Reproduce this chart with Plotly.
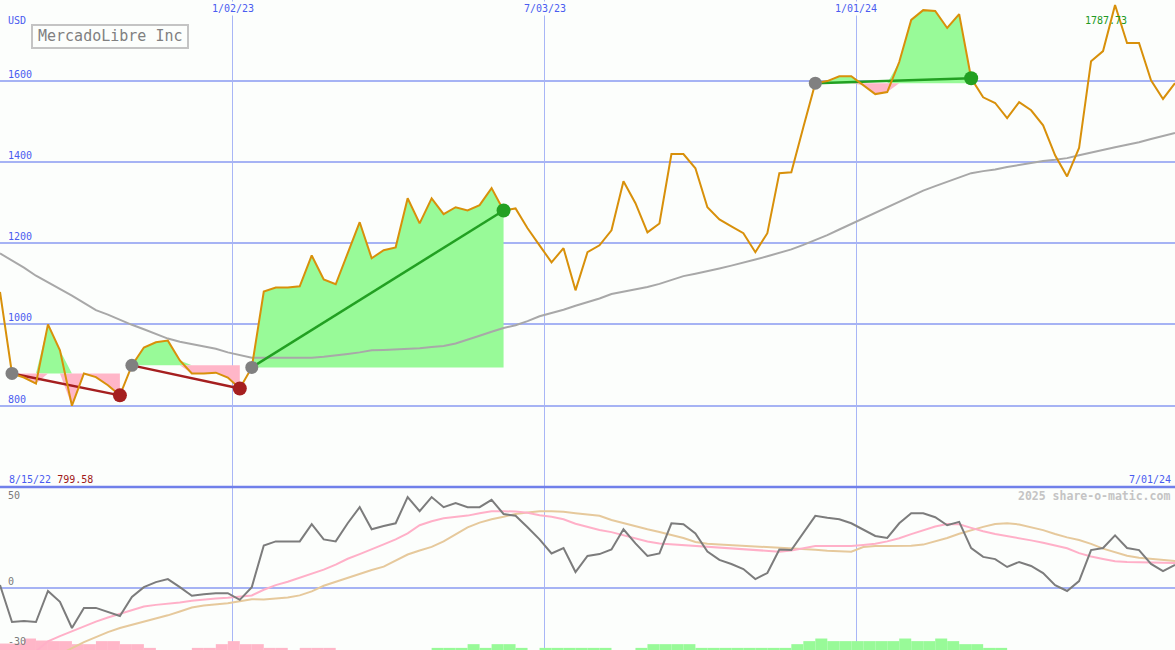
import plotly.graph_objects as go
import pandas as pd

# ---------------- data ----------------
dates = pd.date_range("2022-08-19", periods=99, freq="7D")

price = [1080, 879, 869, 854, 1000, 936, 799.58, 879, 870, 850,
         825, 899, 943, 956, 960, 911, 879, 879, 881, 869,
         842, 894, 1081, 1091, 1091, 1094, 1170, 1111, 1099, 1175,
         1252, 1163, 1183, 1190, 1311, 1249, 1311, 1272, 1289, 1281,
         1294, 1336, 1281, 1286, 1237, 1195, 1153, 1188, 1084, 1178,
         1195, 1232, 1353, 1299, 1227, 1249, 1420, 1420, 1385, 1289,
         1259, 1242, 1225, 1178, 1225, 1373, 1375, 1486, 1595, 1600,
         1612, 1612, 1590, 1568, 1573, 1647, 1751, 1775, 1773, 1731,
         1765, 1607, 1560, 1546, 1509, 1548, 1528, 1491, 1417, 1365,
         1435, 1649, 1674, 1787.73, 1694, 1694, 1602, 1556, 1595]

ma_long = [1175, 1158, 1140, 1120, 1104, 1089, 1071, 1053, 1035, 1024,
           1011, 999, 988, 976, 965, 957, 951, 945, 940, 931,
           924, 918, 918, 918, 918, 918, 918, 920, 923, 927,
           931, 936, 937, 938, 940, 941, 944, 947, 953, 962,
           972, 982, 991, 998, 1008, 1020, 1028, 1036, 1046, 1055,
           1064, 1075, 1081, 1087, 1092, 1100, 1110, 1119, 1125, 1131,
           1138, 1145, 1152, 1160, 1168, 1176, 1185, 1196, 1208, 1220,
           1234, 1248, 1261, 1275, 1290, 1303, 1317, 1330, 1341, 1352,
           1363, 1373, 1378, 1382, 1388, 1393, 1398, 1403, 1406, 1410,
           1417, 1424, 1431, 1437, 1443, 1449, 1457, 1465, 1472]

osc = [1.3, -17, -16.5, -17, -1.6, -7, -20, -10, -10, -12,
       -14, -4.6, 0.3, 2.8, 4.3, 0.3, -4, -3.2, -2.7, -2.7,
       -6, 0.3, 21, 23, 23, 23, 31.6, 24, 23, 32,
       40, 29, 30.6, 32, 45, 38, 45, 40, 42, 40,
       40, 43.6, 36.6, 35.7, 30, 24, 17, 19.7, 7.8, 15.8,
       16.7, 19, 29, 22, 15.8, 17, 32, 31.5, 27, 18,
       13.8, 11.8, 9.3, 4.3, 7.3, 19, 18.7, 27, 35.7, 34.7,
       34, 32, 28.7, 25.7, 24.7, 32, 37, 37, 35, 31,
       32.7, 19.7, 15.3, 14.2, 10.3, 12.8, 10.8, 7.3, 1.3, -1.6,
       3.3, 18.7, 19.7, 26, 19.7, 18.7, 11.8, 8.3, 11.3]

osc_fast = [None, None, None, -31.5, -26.6, -24, -21.5, -19, -16.8, -14.8,
            -13, -11, -9.3, -8.5, -8, -7.3, -6.5, -5.8, -5.4, -5,
            -4.4, -3.8, -1, 1.3, 3, 5, 7, 9, 11.5, 14.4,
            16.7, 19, 21.5, 24, 27, 31, 33, 34.5, 35.2, 35.8,
            37, 38, 38, 37.8, 37.2, 36, 35.2, 34, 31.8, 30.2,
            28.7, 27.6, 26, 24.7, 23, 22, 21.6, 21.2, 20.8, 20.3,
            20, 19.4, 18.9, 18.5, 18.2, 17.9, 18.5, 19.5, 20.7, 20.7,
            20.7, 20.7, 21.2, 21.8, 23, 24.6, 26.6, 28.5, 30.4, 31.6,
            31.5, 29.7, 28, 26.7, 25.7, 24.6, 23.5, 22.3, 21, 19.6,
            17.2, 15.5, 14.3, 13.1, 12.8, 12.6, 12.5, 12.4, 12.3]

osc_slow = [None, None, None, None, None, -33, -30, -27, -24.5, -22,
            -20, -18.5, -16.8, -15.2, -13.7, -11.8, -9.8, -8.8, -8.3, -7.7,
            -6.7, -5.7, -5.8, -5.4, -4.8, -3.8, -1.8, 1, 3, 5,
            7, 8.8, 10.5, 13.5, 16.5, 18.5, 20.3, 23, 26.5, 30,
            32.3, 34, 35.2, 36.6, 37.3, 38, 38, 37.7, 37, 36.4,
            35.7, 33.6, 32, 30.5, 29, 27.7, 26.3, 24.7, 22.7, 21.8,
            21.5, 21.2, 20.9, 20.6, 20.2, 19.8, 19.5, 19.2, 18.8, 18.4,
            18, 17.9, 20.2, 20.7, 20.7, 20.7, 20.9, 21.4, 23, 24.7,
            26.8, 28.6, 30.2, 31.6, 32, 31.4, 30, 28.6, 26.7, 25,
            23.7, 21.8, 19.4, 17.6, 15.9, 14.9, 14.3, 13.8, 13.3]

bar_pink = [3.3, 3.3, 5.8, 4.8, 4.5, 4.5, 3, 3, 4.5, 4.5,
            3, 3, 1.15, 0, 0, 0, 1.15, 1.15, 3, 4.5,
            3, 3, 1.15, 1.15, 0, 1.15, 1.15, 1.15] + [0] * 71

bar_green = [0] * 36 + [1.15, 1.15, 1.15, 3,
             1.15, 3, 3, 1.15, 0, 1.15, 1.15, 1.15, 1.15, 1.15,
             1.15, 0, 0, 1.15, 3, 3, 3, 3, 1.15, 1.15,
             1.15, 1.15, 1.15, 1.15, 1.15, 1.15, 3, 4.5, 5.8, 4.5,
             4.5, 4.5, 4.5, 4.5, 4.5, 5.8, 4.5, 4.5, 5.8, 4.5,
             3, 3, 1.15, 1.15] + [0] * 15

# signal segments: (start index, end index, outcome)
segments = [(1, 10, "loss"), (11, 20, "loss"), (21, 42, "gain"), (68, 81, "gain")]

month_ticks = ["2023-01-02", "2023-07-03", "2024-01-01"]
month_labels = ["1/02/23", "7/03/23", "1/01/24"]
price_ticks = [800, 1000, 1200, 1400, 1600]
osc_ticks = [50, 0, -30]

# ---------------- style ----------------
BG = "#fcfefc"
GRID = "#a6b3f4"
VGRID = "#a8b6f6"
BLUE_TXT = "#4a5cf0"
GREEN_FILL = "#98fa98"
PINK_FILL = "#ffb6c8"
ORANGE = "#d8900a"
RED = "#a51f1f"
GREEN = "#22a022"
GRAYDOT = "#808080"
FONT = "DejaVu Sans Mono"

fig = go.Figure()

# bars in lower panel
week_ms = 7 * 24 * 3600 * 1000
fig.add_trace(go.Bar(x=dates, y=bar_pink, base=-31, width=week_ms, offset=0,
                     marker=dict(color=PINK_FILL, line=dict(width=0)),
                     xaxis="x2", yaxis="y2", hoverinfo="skip"))
fig.add_trace(go.Bar(x=dates, y=bar_green, base=-31, width=week_ms, offset=0,
                     marker=dict(color=GREEN_FILL, line=dict(width=0)),
                     xaxis="x2", yaxis="y2", hoverinfo="skip"))

# fills between price and segment base level
for s, e, kind in segments:
    xs = list(dates[s:e + 1])
    base = price[s]
    seg = price[s:e + 1]
    up = [max(p, base) for p in seg]
    dn = [min(p, base) for p in seg]
    fig.add_trace(go.Scatter(x=xs, y=[base] * len(xs), mode="lines",
                             line=dict(width=0), hoverinfo="skip"))
    fig.add_trace(go.Scatter(x=xs, y=up, mode="lines", line=dict(width=0),
                             fill="tonexty", fillcolor=GREEN_FILL, hoverinfo="skip"))
    fig.add_trace(go.Scatter(x=xs, y=[base] * len(xs), mode="lines",
                             line=dict(width=0), hoverinfo="skip"))
    fig.add_trace(go.Scatter(x=xs, y=dn, mode="lines", line=dict(width=0),
                             fill="tonexty", fillcolor=PINK_FILL, hoverinfo="skip"))

# long moving average
fig.add_trace(go.Scatter(x=dates, y=ma_long, mode="lines",
                         line=dict(color="#a8a8a8", width=2), hoverinfo="skip"))

# segment connecting lines
for s, e, kind in segments:
    col = RED if kind == "loss" else GREEN
    fig.add_trace(go.Scatter(x=[dates[s], dates[e]], y=[price[s], price[e]],
                             mode="lines", line=dict(color=col, width=2.5),
                             hoverinfo="skip"))

# price line
fig.add_trace(go.Scatter(x=dates, y=price, mode="lines",
                         line=dict(color=ORANGE, width=2), hoverinfo="skip"))

# markers
for s, e, kind in segments:
    col = RED if kind == "loss" else GREEN
    fig.add_trace(go.Scatter(x=[dates[s]], y=[price[s]], mode="markers",
                             marker=dict(color=GRAYDOT, size=13, line=dict(width=0)),
                             hoverinfo="skip"))
    fig.add_trace(go.Scatter(x=[dates[e]], y=[price[e]], mode="markers",
                             marker=dict(color=col, size=14, line=dict(width=0)),
                             hoverinfo="skip"))

# lower panel lines
fig.add_trace(go.Scatter(x=dates, y=osc_slow, mode="lines",
                         line=dict(color="#e6c99c", width=2),
                         xaxis="x2", yaxis="y2", hoverinfo="skip"))
fig.add_trace(go.Scatter(x=dates, y=osc_fast, mode="lines",
                         line=dict(color="#ffb0c8", width=2),
                         xaxis="x2", yaxis="y2", hoverinfo="skip"))
fig.add_trace(go.Scatter(x=dates, y=osc, mode="lines",
                         line=dict(color="#7c7c7c", width=2),
                         xaxis="x2", yaxis="y2", hoverinfo="skip"))

split = 163 / 650.0
xrange = [dates[0], dates[-1]]

xcommon = dict(type="date", range=xrange, tickvals=month_ticks, showticklabels=False,
               showgrid=True, gridcolor=VGRID, gridwidth=1, zeroline=False,
               showline=False, ticks="", fixedrange=True)

fig.update_layout(
    width=1175, height=650,
    margin=dict(l=0, r=0, t=0, b=0),
    paper_bgcolor=BG, plot_bgcolor=BG,
    showlegend=False, hovermode=False, barmode="overlay",
    xaxis=dict(domain=[0, 1], anchor="y", **xcommon),
    xaxis2=dict(domain=[0, 1], anchor="y2", matches="x", **xcommon),
    yaxis=dict(domain=[split, 1], range=[599, 1800], tickvals=price_ticks,
               showticklabels=False, showgrid=True, gridcolor=GRID, gridwidth=2,
               zeroline=False, showline=False, ticks=""),
    yaxis2=dict(domain=[0, split], range=[-30.9, 50], tickvals=[0],
                showticklabels=False, showgrid=True, gridcolor=GRID, gridwidth=2,
                zeroline=False, showline=False, ticks=""),
)

shapes = [
    dict(type="line", xref="paper", yref="paper", x0=0, x1=1, y0=split, y1=split,
         line=dict(color="#7080ea", width=2.5), layer="above"),
    dict(type="rect", xref="paper", yref="paper",
         x0=32 / 1175, x1=188 / 1175, y0=1 - 48 / 650, y1=1 - 25 / 650,
         line=dict(color="#c4c4c4", width=2), fillcolor=BG, layer="above"),
]
fig.update_layout(shapes=shapes)

ann = []
# title
ann.append(dict(text="MercadoLibre Inc", xref="paper", yref="paper",
                x=110 / 1175, y=1 - 36.5 / 650, xanchor="center", yanchor="middle",
                showarrow=False, font=dict(family=FONT, size=15, color="#808080")))
# USD
ann.append(dict(text="USD", xref="paper", yref="paper", x=6 / 1175, y=1 - 21 / 650,
                xanchor="left", yanchor="middle", showarrow=False,
                font=dict(family=FONT, size=10, color=BLUE_TXT)))
# price tick labels
for v in price_ticks:
    ann.append(dict(text=str(v), xref="paper", yref="y", x=6 / 1175, y=v,
                    xanchor="left", yanchor="bottom", showarrow=False, yshift=-1,
                    font=dict(family=FONT, size=10, color=BLUE_TXT)))
# oscillator tick labels
for v in osc_ticks:
    ann.append(dict(text=str(v), xref="paper", yref="y2", x=6 / 1175, y=v,
                    xanchor="left", yanchor="top" if v == 50 else "bottom",
                    showarrow=False, yshift=-1,
                    font=dict(family=FONT, size=10, color="#7a7a7a")))
# month labels on top
for d, lab in zip(month_ticks, month_labels):
    ann.append(dict(text=lab, xref="x", yref="paper", x=d, y=1 - 8 / 650,
                    xanchor="center", yanchor="middle", showarrow=False,
                    bgcolor=BG, borderpad=1,
                    font=dict(family=FONT, size=10, color=BLUE_TXT)))
# start label with min value
ann.append(dict(text="8/15/22 <span style='color:#a01818'>%.2f</span>" % min(price),
                xref="paper", yref="paper", x=7 / 1175, y=1 - 479 / 650,
                xanchor="left", yanchor="middle", showarrow=False,
                font=dict(family=FONT, size=10, color=BLUE_TXT)))
ann.append(dict(text="7/01/24", xref="paper", yref="paper", x=1173 / 1175, y=1 - 479 / 650,
                xanchor="right", yanchor="middle", showarrow=False,
                font=dict(family=FONT, size=10, color=BLUE_TXT)))
# max label
ann.append(dict(text="%.2f" % max(price), xref="paper", yref="paper",
                x=1106 / 1175, y=1 - 21 / 650, xanchor="center", yanchor="middle",
                showarrow=False, font=dict(family=FONT, size=10, color="#229922")))
# watermark
ann.append(dict(text="<b>2025 share-o-matic.com</b>", xref="paper", yref="paper",
                x=1172 / 1175, y=1 - 496 / 650, xanchor="right", yanchor="middle",
                showarrow=False, font=dict(family=FONT, size=11.5, color="#c4c4c4")))

fig.update_layout(annotations=ann)

fig.write_html("out.html", config={"displayModeBar": False, "staticPlot": True},
               post_script="document.body.style.margin='0';document.body.style.padding='0';")
